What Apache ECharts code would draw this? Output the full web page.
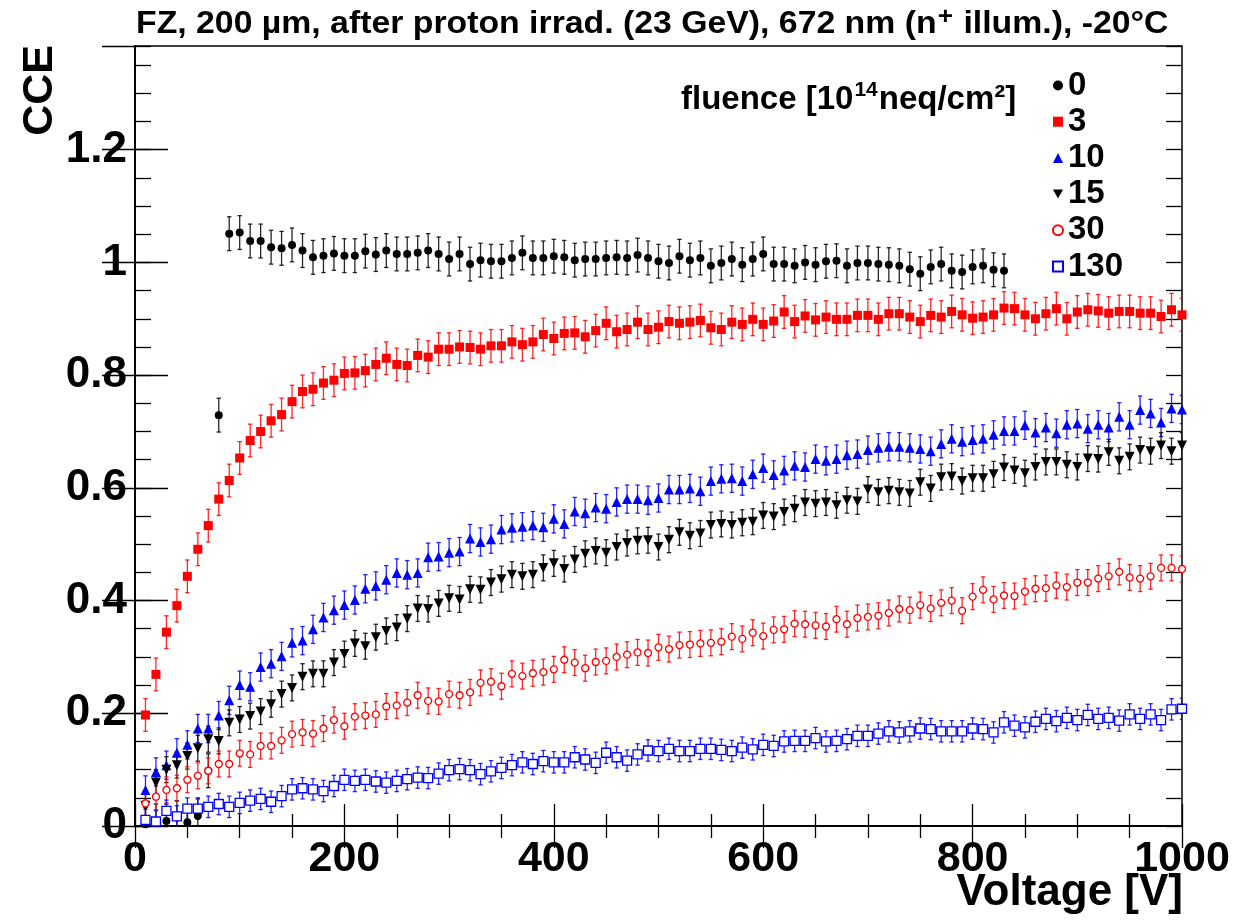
<!DOCTYPE html>
<html>
<head>
<meta charset="utf-8">
<script src="https://cdn.jsdelivr.net/npm/echarts@6/dist/echarts.min.js"></script>
<style>html,body{margin:0;padding:0;background:#fff}#c{width:1249px;height:922px}</style>
</head>
<body>
<div id="c"></div>
<script>
const voltages = [10,20,30,40,50,60,70,80,90,100,110,120,130,140,150,160,170,180,190,200,
210,220,230,240,250,260,270,280,290,300,310,320,330,340,350,360,370,380,390,400,
410,420,430,440,450,460,470,480,490,500,510,520,530,540,550,560,570,580,590,600,
610,620,630,640,650,660,670,680,690,700,710,720,730,740,750,760,770,780,790,800,
810,820,830,840,850,860,870,880,890,900,910,920,930,940,950,960,970,980,990,1000];

const fluenceNames = ['0','3','10','15','30','130'];

const cce0 = [0.003,0.009,0.009,0.015,0.006,0.018,0.098,0.729,1.051,1.053,1.038,1.038,1.027,1.025,1.031,1.021,1.009,1.012,1.016,1.012,
1.012,1.020,1.014,1.021,1.015,1.015,1.017,1.021,1.015,1.006,1.015,0.997,1.004,1.002,1.002,1.008,1.017,1.008,1.008,1.011,
1.009,1.004,1.006,1.006,1.008,1.009,1.008,1.013,1.008,1.002,0.999,1.011,1.004,1.008,0.994,0.999,1.006,0.996,1.006,1.015,
0.997,0.997,0.994,1.000,0.996,1.002,1.003,0.994,0.999,0.999,0.997,0.996,0.994,0.988,0.980,0.992,0.997,0.985,0.983,0.992,
0.994,0.987,0.985];

const cce3 = [0.197,0.269,0.344,0.391,0.443,0.491,0.533,0.580,0.613,0.653,0.684,0.700,0.719,0.730,0.753,0.771,0.775,0.786,0.791,0.803,
0.804,0.808,0.819,0.830,0.819,0.817,0.835,0.832,0.846,0.846,0.850,0.849,0.846,0.852,0.852,0.859,0.854,0.859,0.872,0.865,
0.874,0.875,0.868,0.879,0.892,0.877,0.881,0.894,0.881,0.885,0.895,0.892,0.894,0.897,0.884,0.881,0.894,0.890,0.899,0.890,
0.896,0.912,0.895,0.905,0.898,0.903,0.899,0.899,0.906,0.906,0.899,0.909,0.909,0.903,0.895,0.906,0.903,0.913,0.907,0.901,
0.903,0.907,0.919,0.918,0.907,0.900,0.909,0.918,0.900,0.912,0.916,0.914,0.910,0.913,0.913,0.910,0.910,0.904,0.916,0.907];

const cce10 = [0.064,0.096,0.108,0.130,0.144,0.173,0.173,0.196,0.223,0.250,0.247,0.282,0.288,0.301,0.325,0.329,0.349,0.370,0.383,0.392,
0.401,0.421,0.426,0.437,0.449,0.446,0.449,0.477,0.478,0.485,0.487,0.510,0.504,0.509,0.526,0.529,0.531,0.533,0.530,0.545,
0.536,0.558,0.555,0.565,0.563,0.575,0.580,0.580,0.578,0.582,0.597,0.597,0.599,0.594,0.612,0.616,0.617,0.612,0.624,0.635,
0.623,0.631,0.639,0.637,0.651,0.648,0.651,0.658,0.660,0.667,0.671,0.673,0.673,0.671,0.669,0.665,0.678,0.687,0.682,0.685,
0.687,0.694,0.701,0.701,0.711,0.698,0.707,0.697,0.712,0.714,0.705,0.712,0.707,0.726,0.712,0.738,0.732,0.716,0.741,0.739];

const cce15 = [0.036,0.077,0.100,0.108,0.124,0.138,0.154,0.151,0.183,0.189,0.195,0.203,0.216,0.234,0.245,0.265,0.270,0.270,0.290,0.305,
0.324,0.319,0.335,0.346,0.352,0.368,0.386,0.385,0.395,0.404,0.402,0.420,0.419,0.432,0.438,0.446,0.443,0.446,0.458,0.466,
0.456,0.473,0.483,0.488,0.485,0.495,0.502,0.506,0.507,0.495,0.508,0.521,0.515,0.519,0.534,0.536,0.534,0.538,0.540,0.551,
0.549,0.557,0.563,0.574,0.572,0.574,0.569,0.578,0.576,0.597,0.592,0.595,0.592,0.590,0.610,0.599,0.619,0.620,0.612,0.617,
0.617,0.624,0.636,0.631,0.626,0.637,0.646,0.646,0.641,0.637,0.652,0.651,0.663,0.648,0.655,0.667,0.665,0.675,0.665,0.675];

const cce30 = [0.040,0.052,0.064,0.067,0.082,0.089,0.098,0.110,0.110,0.129,0.127,0.142,0.142,0.152,0.163,0.166,0.164,0.173,0.188,0.177,
0.194,0.196,0.198,0.212,0.214,0.219,0.232,0.222,0.221,0.234,0.232,0.237,0.254,0.256,0.248,0.270,0.266,0.271,0.273,0.278,
0.295,0.290,0.280,0.291,0.293,0.300,0.304,0.308,0.307,0.317,0.314,0.321,0.322,0.324,0.325,0.327,0.336,0.332,0.343,0.337,
0.348,0.349,0.359,0.358,0.356,0.354,0.367,0.358,0.369,0.371,0.373,0.378,0.385,0.383,0.392,0.386,0.396,0.400,0.382,0.407,
0.419,0.402,0.409,0.408,0.416,0.421,0.422,0.427,0.424,0.432,0.432,0.439,0.443,0.451,0.441,0.439,0.443,0.458,0.458,0.456];

const cce130 = [0.011,0.008,0.027,0.017,0.031,0.031,0.034,0.039,0.034,0.041,0.045,0.048,0.043,0.053,0.065,0.067,0.065,0.062,0.071,0.082,
0.080,0.082,0.079,0.077,0.080,0.083,0.086,0.085,0.093,0.099,0.101,0.099,0.092,0.097,0.103,0.108,0.113,0.110,0.115,0.113,
0.113,0.122,0.118,0.112,0.130,0.122,0.116,0.127,0.134,0.133,0.137,0.133,0.133,0.137,0.137,0.135,0.133,0.139,0.136,0.144,
0.142,0.150,0.151,0.151,0.156,0.150,0.151,0.154,0.160,0.160,0.164,0.168,0.166,0.168,0.173,0.172,0.168,0.168,0.168,0.173,
0.172,0.166,0.184,0.178,0.175,0.185,0.190,0.186,0.192,0.188,0.197,0.190,0.192,0.187,0.198,0.190,0.198,0.188,0.207,0.208];

// half-width of the error bars for each fluence
const errHalf = [0.030, 0.029, 0.025, 0.023, 0.023, 0.019];

const xTicks = [0, 200, 400, 600, 800, 1000];
const yTicks = [0, 0.2, 0.4, 0.6, 0.8, 1, 1.2];

const FONT = "'Liberation Sans', Arial, Helvetica, sans-serif";

const values = [cce0, cce3, cce10, cce15, cce30, cce130];
const styles = [
  {symbol: 'circle', size: 8, color: '#000000', fill: '#000000', border: 0},
  {symbol: 'rect', size: 9, color: '#ff0000', fill: '#ff0000', border: 0},
  {symbol: 'triangle', size: 10, color: '#0000ff', fill: '#0000ff', border: 0},
  {symbol: 'path://M0,0L20,0L10,18Z', size: 10, color: '#000000', fill: '#000000', border: 0},
  {symbol: 'circle', size: 7, color: '#ff0000', fill: '#ffffff', border: 1.3},
  {symbol: 'rect', size: 9, color: '#0000ff', fill: '#ffffff', border: 1.3}
];

const series = [];
values.forEach((vals, k) => {
  const st = styles[k];
  const pts = vals.map((v, i) => [voltages[i], v]);
  const errs = vals.map((v, i) => [voltages[i], v - errHalf[k], v + errHalf[k]]);
  series.push({
    type: 'custom', name: 'err' + k, xAxisIndex: 0, yAxisIndex: 0, clip: true,
    silent: true, z: 2,
    data: errs,
    renderItem: (params, api) => {
      const x = api.value(0), lo = api.value(1), hi = api.value(2);
      const p1 = api.coord([x, lo]), p2 = api.coord([x, hi]);
      const c = 2.2;
      const s = {stroke: st.color, lineWidth: 1.3, opacity: 0.85};
      return {type: 'group', children: [
        {type: 'line', shape: {x1: p1[0], y1: p1[1], x2: p2[0], y2: p2[1]}, style: s},
        {type: 'line', shape: {x1: p1[0] - c, y1: p1[1], x2: p1[0] + c, y2: p1[1]}, style: s},
        {type: 'line', shape: {x1: p2[0] - c, y1: p2[1], x2: p2[0] + c, y2: p2[1]}, style: s}
      ]};
    }
  });
  series.push({
    type: 'scatter', name: fluenceNames[k], xAxisIndex: 0, yAxisIndex: 0,
    symbol: st.symbol, symbolSize: st.size, z: 3,
    itemStyle: {color: st.fill, borderColor: st.color, borderWidth: st.border, opacity: 1},
    data: pts
  });
});

const yBase = {type: 'value', min: 0, max: 1.384, splitLine: {show: false}};
const titleRich = {
  a: {fontFamily: FONT, fontWeight: 'bold', fontSize: 31, fill: '#000', verticalAlign: 'bottom', lineHeight: 36},
  s: {fontFamily: FONT, fontWeight: 'bold', fontSize: 24, fill: '#000', verticalAlign: 'bottom', lineHeight: 36, padding: [0, 1, 11, 1]}
};
const chart = echarts.init(document.getElementById('c'));
chart.setOption({
  animation: false,
  backgroundColor: '#ffffff',
  legend: {
    orient: 'vertical', left: 1047, top: 64,
    itemWidth: 10, itemHeight: 10, itemGap: 3.2,
    data: fluenceNames,
    textStyle: {fontFamily: FONT, fontWeight: 'bold', fontSize: 33, color: '#000', lineHeight: 33}
  },
  grid: {left: 135, right: 67, top: 46, bottom: 96, show: true, borderColor: '#000', borderWidth: 1.5, containLabel: false},
  xAxis: [
    {type: 'value', position: 'bottom', min: 0, max: 1000, interval: 200,
     axisLine: {lineStyle: {color: '#000', width: 1.5}},
     axisTick: {inside: true, length: 22, lineStyle: {color: '#000', width: 1.3}},
     minorTick: {show: true, splitNumber: 4, length: 12, lineStyle: {color: '#000', width: 1.3}},
     axisLabel: {fontFamily: FONT, fontWeight: 'bold', fontSize: 43, color: '#000', margin: 12,
       formatter: v => (xTicks.indexOf(v) >= 0 ? String(v) : '')},
     splitLine: {show: false}},
    {type: 'value', position: 'top', min: 0, max: 1000, interval: 200,
     axisLine: {lineStyle: {color: '#000', width: 1.5}},
     axisTick: {inside: true, length: 22, lineStyle: {color: '#000', width: 1.3}},
     minorTick: {show: true, splitNumber: 4, length: 12, lineStyle: {color: '#000', width: 1.3}},
     axisLabel: {show: false}, splitLine: {show: false}}
  ],
  yAxis: [
    Object.assign({}, yBase, {position: 'left', interval: 0.2,
      axisLine: {lineStyle: {color: '#000', width: 1.5}},
      axisTick: {inside: true, length: 33, lineStyle: {color: '#000', width: 1.3}},
      axisLabel: {fontFamily: FONT, fontWeight: 'bold', fontSize: 44, color: '#000', margin: 8, showMaxLabel: false,
        formatter: v => {const m = yTicks.find(t => Math.abs(t - v) < 1e-6); return m === undefined ? '' : String(m);}}}),
    Object.assign({}, yBase, {position: 'right', interval: 0.2,
      axisLine: {lineStyle: {color: '#000', width: 1.5}},
      axisTick: {inside: true, length: 33, lineStyle: {color: '#000', width: 1.3}},
      axisLabel: {show: false}}),
    Object.assign({}, yBase, {position: 'left', interval: 0.05,
      axisLine: {show: false},
      axisTick: {inside: true, length: 16, lineStyle: {color: '#000', width: 1.3}},
      axisLabel: {show: false}}),
    Object.assign({}, yBase, {position: 'right', interval: 0.05,
      axisLine: {show: false},
      axisTick: {inside: true, length: 16, lineStyle: {color: '#000', width: 1.3}},
      axisLabel: {show: false}})
  ],
  graphic: [
    {type: 'text', x: 136, y: 4, scaleX: 1.09, z: 10,
     style: {text: '{a|FZ, 200 µm, after proton irrad. (23 GeV), 672 nm (n}{s|+}{a| illum.), -20°C}', rich: titleRich}},
    {type: 'text', x: 681, y: 78, z: 10,
     style: {text: '{a|fluence [10}{s|14}{a|neq/cm²]}',
       rich: {
         a: {fontFamily: FONT, fontWeight: 'bold', fontSize: 33, fill: '#000', verticalAlign: 'bottom', lineHeight: 38},
         s: {fontFamily: FONT, fontWeight: 'bold', fontSize: 21, fill: '#000', verticalAlign: 'bottom', lineHeight: 38, padding: [0, 1, 15, 1]}
       }}},
    {type: 'text', x: 1183, y: 893, z: 10,
     style: {text: 'Voltage [V]', fontFamily: FONT, fontWeight: 'bold', fontSize: 44, fill: '#000',
       align: 'right', verticalAlign: 'middle', textAlign: 'right', textVerticalAlign: 'middle'}},
    {type: 'text', x: 40, y: 45, rotation: Math.PI / 2, z: 10,
     style: {text: 'CCE', fontFamily: FONT, fontWeight: 'bold', fontSize: 43, fill: '#000',
       align: 'right', verticalAlign: 'middle', textAlign: 'right', textVerticalAlign: 'middle'}}
  ],
  series: series
});
</script>
</body>
</html>
